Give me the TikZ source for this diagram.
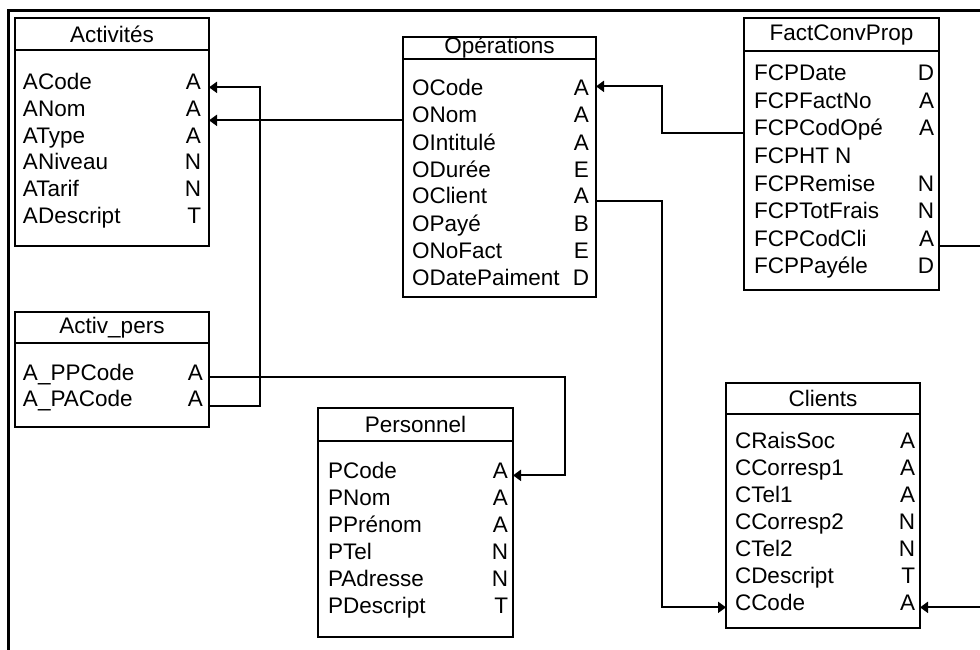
\documentclass[tikz,border=0pt]{standalone}
\usepackage{fontspec}
\setmainfont{Liberation Sans}
\usepackage{tikz}
\usetikzlibrary{arrows.meta,positioning}
\tikzstyle{tabhead} = [rectangle, draw=black, line width=2pt, inner sep=0pt, outer sep=0pt, text centered, font=\fontsize{22.5pt}{27pt}\selectfont]
\tikzstyle{tabbody} = [rectangle, draw=black, line width=2pt, inner sep=0pt, outer sep=0pt]
\tikzstyle{field} = [inner sep=0pt, outer sep=0pt, anchor=base west, font=\fontsize{22.5pt}{27pt}\selectfont]
\tikzstyle{ftype} = [inner sep=0pt, outer sep=0pt, anchor=base east, font=\fontsize{22.5pt}{27pt}\selectfont]
\tikzstyle{arrow} = [line width=2pt, -{Triangle[length=8pt,width=11pt]}]

\begin{document}
\begin{tikzpicture}[x=1pt, y=-1pt]
\useasboundingbox (0,0) rectangle (980,650);
\draw [line width=3pt] (995,11) -- (8,11) -- (8,665);

% Activites
\node (acth) [tabhead, minimum width=194pt, minimum height=32pt] at (112,34) {Activités};
\node (actb) [tabbody, below=0pt of acth, minimum width=194pt, minimum height=196pt] {};
\foreach \nm/\ty [count=\i] in {ACode/A, ANom/A, AType/A, ANiveau/N, ATarif/N, ADescript/T}
{
\node (act\i) [field] at (23,{90+26.6*(\i-1)}) {\nm};
\node (acttype\i) [ftype] at (201,{90+26.6*(\i-1)}) {\ty};
}

% Activ_pers
\node (aph) [tabhead, minimum width=194pt, minimum height=31pt] at (112,327.5) {Activ\_pers};
\node (apb) [tabbody, below=0pt of aph, minimum width=194pt, minimum height=84pt] {};
\foreach \nm/\ty [count=\i] in {A\_PPCode/A, A\_PACode/A}
{
\node (ap\i) [field] at (23,{380+26*(\i-1)}) {\nm};
\node (aptype\i) [ftype] at (203,{380+26*(\i-1)}) {\ty};
}

% Operations
\node (oph) [tabhead, minimum width=193pt, minimum height=22pt] at (499.5,48) {Opérations};
\node (opb) [tabbody, below=0pt of oph, minimum width=193pt, minimum height=238pt] {};
\foreach \nm/\ty [count=\i] in {OCode/A, ONom/A, OIntitulé/A, ODurée/E, OClient/A, OPayé/B, ONoFact/E, ODatePaiment/D}
{
\node (op\i) [field] at (412,{96+27*(\i-1)}) {\nm};
\node (optype\i) [ftype] at (589,{96+27*(\i-1)}) {\ty};
}

% FactConvProp
\node (fcph) [tabhead, minimum width=195pt, minimum height=33pt] at (841.5,34.5) {FactConvProp};
\node (fcpb) [tabbody, below=0pt of fcph, minimum width=195pt, minimum height=239pt] {};
\foreach \nm/\ty [count=\i] in {FCPDate/D, FCPFactNo/A, FCPCodOpé/A, FCPHT N/{}, FCPRemise/N, FCPTotFrais/N, FCPCodCli/A, FCPPayéle/D}
{
\node (fcp\i) [field] at (754,{81+27.5*(\i-1)}) {\nm};
\node (fcptype\i) [ftype] at (934,{81+27.5*(\i-1)}) {\ty};
}

% Personnel
\node (perh) [tabhead, minimum width=195pt, minimum height=33pt] at (415.5,424.5) {Personnel};
\node (perb) [tabbody, below=0pt of perh, minimum width=195pt, minimum height=196pt] {};
\foreach \nm/\ty [count=\i] in {PCode/A, PNom/A, PPrénom/A, PTel/N, PAdresse/N, PDescript/T}
{
\node (per\i) [field] at (328,{478+27*(\i-1)}) {\nm};
\node (pertype\i) [ftype] at (508,{478+27*(\i-1)}) {\ty};
}

% Clients
\node (clih) [tabhead, minimum width=194pt, minimum height=31pt] at (823,398.5) {Clients};
\node (clib) [tabbody, below=0pt of clih, minimum width=194pt, minimum height=214pt] {};
\foreach \nm/\ty [count=\i] in {CRaisSoc/A, CCorresp1/A, CTel1/A, CCorresp2/N, CTel2/N, CDescript/T, CCode/A}
{
\node (cli\i) [field] at (735,{448+27*(\i-1)}) {\nm};
\node (clitype\i) [ftype] at (915,{448+27*(\i-1)}) {\ty};
}

% liens
\coordinate (ocodein) at ([yshift=7pt]op1.mid);
\draw [arrow] (apb.east |- ap2.base) -- ++(51,0) |- (actb.east |- act1.mid);
\draw [arrow] (opb.west |- op2.mid) -- (actb.east |- op2.mid);
\draw [arrow] (apb.east |- ap1.mid) -- ++(356,0) |- (perb.east |- per1.mid);
\draw [arrow] (fcpb.west |- fcp3.mid) -- ++(-82,0) |- (opb.east |- ocodein);
\draw [arrow] (opb.east |- op5.mid) -- ++(66,0) |- (clib.west |- cli7.mid);
\draw [arrow] (fcpb.east |- fcp7.base) -- ++(60,0) |- (clib.east |- cli7.mid);
\end{tikzpicture}
\end{document}
